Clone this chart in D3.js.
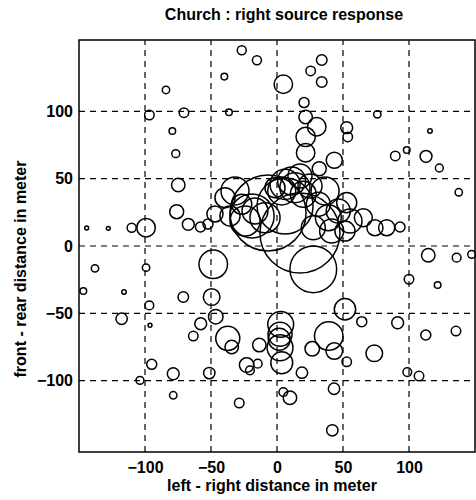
<!DOCTYPE html>
<html lang="en">
<head>
  <meta charset="UTF-8">
  <title>Church : right source response</title>
  <script src="https://d3js.org/d3.v7.min.js"></script>
  <style>
    body { margin: 0; background: #fff; }
    text { font-family: "Liberation Sans", Arial, Helvetica, sans-serif; font-weight: bold; fill: #000; }
  </style>
</head>
<body>
  <div id="chart"></div>
  <script>
    // image sources: left-right position, front-rear position, circle radius (all in meter)
    const srcX = [-26.7, -15.2, -39.9, -84.1, -96.7, -70.5, -36.4, -79.3, -76.7, -74.8,
      -76.0, 33.9, 25.5, 33.9, 4.8, 20.5, 21.7, 30.1, 21.7, 21.7,
      43.4, 32.0, 52.8, 53.6, 76.0, 115.9, 98.3, 89.6, 112.9, 123.0,
      137.7, -144.2, -127.8, -110.1, -99.2, -67.2, -58.0, -52.3, -47.0, -39.4,
      -26.7, -16.7, -24.2, -9.1, -1.5, -35.6, -6.8, 17.4, 6.1, -18.9,
      6.1, 13.6, 19.9, 11.1, 3.6, 31.3, 38.9, 52.8, 46.4, 55.3,
      65.4, 74.2, 83.1, 93.2, 27.5, 41.4, 51.5, 17.4, 25.0, 36.4,
      -31.8, -137.9, -99.2, -48.3, -146.7, -115.9, -96.7, -71.0, -49.5, -46.4,
      -117.7, -96.2, -57.8, -63.4, -37.3, -34.3, -13.4, -23.0, -20.5, -14.6,
      -94.9, -78.6, -51.3, -103.8, -78.6, -28.6, 114.6, 136.1, 147.5, 100.0,
      121.7, 27.5, 51.5, 64.2, 91.4, 39.2, 26.7, 43.4, 52.8, 73.7,
      112.7, 135.6, 18.9, 98.7, 107.6, 43.2, 4.8, 9.8, 41.9, 2.8,
      2.3, 1.7, 2.3, 3.6];
    const srcY = [145.4, 138.0, 125.8, 115.9, 97.3, 99.0, 99.3, 85.4, 68.6, 45.3,
      25.5, 138.2, 130.0, 121.8, 120.1, 106.5, 95.8, 88.6, 81.0, 69.3,
      63.7, 57.4, 87.9, 81.0, 97.8, 85.4, 71.3, 66.9, 66.6, 57.9,
      39.9, 13.4, 13.1, 13.6, 13.6, 16.1, 14.1, 16.3, 23.8, 35.9,
      31.0, 26.0, 18.6, 21.0, 43.3, 22.3, 24.5, 9.7, 29.7, 22.3,
      45.8, 43.3, 38.4, 48.3, 40.9, 31.0, 21.0, 32.2, 26.0, 18.6,
      21.0, 13.6, 13.6, 14.1, 13.6, 11.1, 11.1, 52.0, 44.6, 40.9,
      40.9, -16.6, -16.1, -13.6, -33.4, -34.2, -44.1, -37.9, -37.9, -52.5,
      -54.0, -58.9, -57.7, -66.9, -68.6, -75.0, -73.6, -88.4, -92.3, -87.4,
      -87.9, -94.9, -94.4, -99.8, -110.9, -116.6, -6.9, -8.7, -6.2, -24.7,
      -29.0, -17.3, -47.0, -56.2, -57.0, -66.9, -76.3, -78.0, -86.0, -79.7,
      -66.1, -63.2, -94.1, -93.6, -96.6, -106.0, -108.5, -112.7, -136.9, -58.2,
      -65.6, -69.3, -75.6, -86.7];
    const srcR = [3.4, 3.4, 2.5, 2.8, 3.6, 3.6, 2.5, 2.5, 3.0, 5.1,
      5.3, 4.0, 3.6, 4.0, 7.0, 3.8, 5.1, 7.0, 7.3, 7.0,
      6.1, 5.3, 4.5, 3.6, 2.8, 1.7, 2.5, 3.6, 4.5, 3.0,
      2.8, 1.5, 1.5, 3.4, 7.0, 4.5, 3.8, 3.8, 6.1, 7.6,
      7.6, 9.8, 11.4, 11.4, 7.6, 7.6, 28.8, 30.3, 21.2, 16.7,
      11.4, 11.4, 9.8, 10.6, 10.6, 9.1, 9.8, 7.6, 9.1, 9.1,
      6.8, 6.1, 6.1, 3.8, 9.1, 9.1, 7.6, 9.1, 9.1, 10.6,
      10.6, 2.8, 2.8, 10.8, 2.5, 1.7, 3.3, 4.0, 6.3, 5.5,
      4.3, 1.5, 4.5, 3.6, 9.1, 5.1, 5.1, 5.5, 3.3, 3.3,
      3.8, 4.5, 4.3, 3.0, 2.8, 3.6, 5.1, 3.3, 3.0, 3.6,
      2.5, 17.7, 8.1, 3.8, 4.5, 10.8, 5.5, 6.3, 3.6, 6.3,
      3.8, 3.6, 4.3, 3.3, 3.6, 4.3, 3.3, 5.1, 4.3, 9.8,
      9.1, 8.3, 9.8, 8.3];

    const xTicks = [-100, -50, 0, 50, 100];
    const yTicks = [-100, -50, 0, 50, 100];

    const width = 476;
    const height = 500;
    const margin = { top: 40, right: 1, bottom: 48, left: 79 };

    const svg = d3.select('#chart')
      .append('svg')
      .attr('width', width)
      .attr('height', height);

    const x = d3.scaleLinear()
      .domain([-150, 150])
      .range([margin.left, width - margin.right]);

    const y = d3.scaleLinear()
      .domain([-153, 153])
      .range([height - margin.bottom, margin.top]);

    // radius in meter -> pixels, same factor as the x axis
    const r = d3.scaleLinear()
      .domain([0, 150])
      .range([0, x(150) - x(0)]);

    const sources = srcX.map((d, i) => ({ x: d, y: srcY[i], r: srcR[i] }));

    // dashed grid
    svg.append('g')
      .selectAll('line')
      .data(xTicks)
      .enter()
      .append('line')
      .attr('x1', d => x(d))
      .attr('x2', d => x(d))
      .attr('y1', y.range()[0])
      .attr('y2', y.range()[1])
      .attr('stroke', '#000')
      .attr('stroke-width', 1.2)
      .attr('stroke-dasharray', '6,5');

    svg.append('g')
      .selectAll('line')
      .data(yTicks)
      .enter()
      .append('line')
      .attr('x1', x.range()[0])
      .attr('x2', x.range()[1])
      .attr('y1', d => y(d))
      .attr('y2', d => y(d))
      .attr('stroke', '#000')
      .attr('stroke-width', 1.2)
      .attr('stroke-dasharray', '6,5');

    // circles
    svg.append('g')
      .selectAll('circle')
      .data(sources)
      .enter()
      .append('circle')
      .attr('cx', d => x(d.x))
      .attr('cy', d => y(d.y))
      .attr('r', d => r(d.r))
      .attr('fill', 'none')
      .attr('stroke', '#000')
      .attr('stroke-width', 1.5);

    // axes
    const xAxis = svg.append('g')
      .attr('transform', `translate(0, ${y.range()[0]})`)
      .call(d3.axisBottom(x).tickValues(xTicks).tickSize(0).tickPadding(10).tickFormat(d3.format('d')));
    xAxis.select('.domain').remove();
    xAxis.selectAll('text').style('font-size', '16px').style('font-family', null);

    const yAxis = svg.append('g')
      .attr('transform', `translate(${x.range()[0]}, 0)`)
      .call(d3.axisLeft(y).tickValues(yTicks).tickSize(0).tickPadding(6).tickFormat(d3.format('d')));
    yAxis.select('.domain').remove();
    yAxis.selectAll('text').style('font-size', '16px').style('font-family', null);

    // frame
    svg.append('rect')
      .attr('x', x.range()[0])
      .attr('y', y.range()[1])
      .attr('width', x.range()[1] - x.range()[0])
      .attr('height', y.range()[0] - y.range()[1])
      .attr('fill', 'none')
      .attr('stroke', '#000')
      .attr('stroke-width', 1.5);

    // title and labels
    svg.append('text')
      .attr('x', 284)
      .attr('y', 20)
      .attr('text-anchor', 'middle')
      .style('font-size', '16px')
      .text('Church : right source response');

    svg.append('text')
      .attr('x', 272)
      .attr('y', 491)
      .attr('text-anchor', 'middle')
      .style('font-size', '16px')
      .text('left - right distance in meter');

    svg.append('text')
      .attr('transform', 'translate(26, 269) rotate(-90)')
      .attr('text-anchor', 'middle')
      .style('font-size', '16px')
      .text('front - rear distance in meter');
  </script>
</body>
</html>
